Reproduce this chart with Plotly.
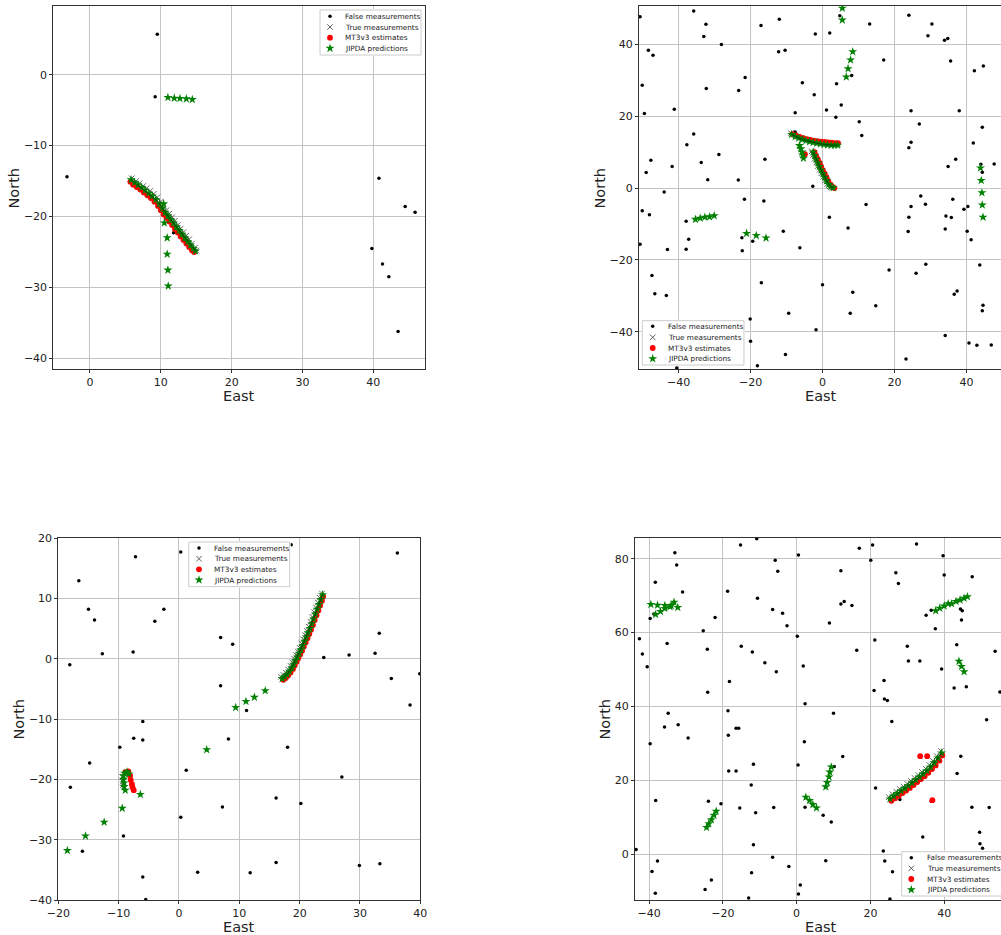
import plotly.graph_objects as go

W, H = 1001, 935

# ---------------- panel 1 ----------------
P1_FALSE = [(9.5, 5.7), (9.2, -3.1), (-3.25, -14.4), (40.8, -14.6), (44.5, -18.6), (45.9, -19.4),
            (39.8, -24.5), (41.3, -26.7), (42.2, -28.5), (43.5, -36.2), (11.8, -22.3)]
P1_TRUE = [(5.9, -14.6), (6.5, -15.0), (7.0, -15.3), (7.5, -15.7), (8.0, -16.0), (8.5, -16.4),
           (9.0, -16.8), (9.5, -17.3), (10.0, -17.9), (10.4, -18.5), (10.8, -19.1), (11.2, -19.6),
           (11.6, -20.1), (12.0, -20.6), (12.4, -21.2), (12.8, -21.7), (13.2, -22.2), (13.6, -22.7),
           (14.0, -23.2), (14.4, -23.8), (14.8, -24.4), (15.0, -24.8)]
P1_MT3 = [(5.7, -15.1), (6.1, -15.5), (6.6, -15.85), (7.1, -16.2), (7.6, -16.6), (8.1, -17.0),
          (8.6, -17.4), (9.1, -17.9), (9.6, -18.5), (10.0, -19.1), (10.4, -19.7), (10.8, -20.2),
          (11.2, -20.7), (11.6, -21.2), (12.0, -21.75), (12.4, -22.25), (12.8, -22.8), (13.2, -23.3),
          (13.6, -23.8), (14.0, -24.3), (14.4, -24.75), (14.7, -25.0)]
P1_TRACK = [(5.8, -14.8), (6.3, -15.2), (6.8, -15.55), (7.3, -15.9), (7.8, -16.3), (8.3, -16.7),
            (8.8, -17.1), (9.3, -17.6), (9.8, -18.2), (10.2, -18.8), (10.6, -19.4), (11.0, -19.9),
            (11.4, -20.4), (11.8, -20.9), (12.2, -21.45), (12.6, -21.95), (13.0, -22.5), (13.4, -23.0),
            (13.8, -23.5), (14.2, -24.0), (14.6, -24.5), (14.9, -24.85)]
P1_JIPDA = [(11.0, -3.2), (11.9, -3.3), (12.7, -3.35), (13.6, -3.4), (14.45, -3.5),
            (10.4, -18.2), (10.5, -20.9), (10.9, -23.0), (10.9, -25.3), (11.0, -27.55), (11.05, -29.8)]

# ---------------- panel 2 ----------------
P2_FALSE = [(-50.7, 47.6), (-35.8, 49.2), (-32.4, 45.5), (-33.0, 42.1), (-48.4, 38.3), (-47.1, 36.9),
            (-28.1, 39.9), (-50.1, 28.6), (-49.5, 20.7), (-41.2, 21.9), (-32.3, 27.7), (-23.3, 27.1),
            (-21.5, 30.7), (-17.1, 45.2), (-12.0, 46.9), (-12.2, 37.9), (-10.4, 38.3), (-5.6, 29.3),
            (-2.0, 42.8), (-2.3, 25.9), (2.0, 43.1), (4.8, 47.9), (3.9, 29.0), (8.1, 31.3), (1.1, 21.7),
            (5.2, 23.1), (3.7, 19.7), (-7.6, 20.9), (-7.6, 15.6), (13.1, 45.6), (17.0, 35.6), (10.2, 18.4),
            (10.9, 14.6), (24.0, 48.0), (29.3, 42.3), (30.4, 45.6), (33.9, 41.1), (34.8, 41.6), (35.6, 35.3),
            (42.2, 32.6), (44.7, 33.9), (38.0, 21.5), (24.6, 21.5), (26.9, 17.8), (24.6, 12.7), (24.0, 11.2),
            (41.9, 12.5), (44.4, 16.9), (47.7, 6.7), (37.0, 8.0), (34.9, 6.0), (44.0, 6.6), (44.4, 4.4),
            (-33.7, 7.1), (-28.8, 9.3), (-37.7, 12.0), (-35.8, 15.0), (-41.8, 6.0), (-47.7, 7.7), (-49.0, 4.3),
            (-31.9, 2.3), (-23.4, 2.2), (-16.0, 8.0), (-44.0, -1.1), (-50.1, -6.3), (-48.1, -7.4), (-2.7, 0.5),
            (-21.7, -3.1), (-16.3, -3.6), (1.9, -8.1), (12.1, -4.6), (7.1, -11.1), (-10.9, -12.0),
            (-37.9, -9.2), (-37.2, -14.2), (-37.9, -17.0), (-43.1, -17.1), (-50.7, -15.6), (-22.4, -13.8),
            (-19.4, -14.8), (-22.3, -17.4), (-6.3, -16.6), (27.3, -2.2), (28.6, -4.5), (24.6, -5.1),
            (24.0, -8.1), (23.8, -12.1), (36.2, -3.1), (34.3, -7.8), (35.8, -8.2), (34.1, -11.4),
            (39.3, -5.9), (40.4, -5.1), (40.2, -12.0), (41.3, -14.4), (-47.4, -24.3), (-46.6, -29.4),
            (-43.4, -29.9), (-17.0, -26.3), (-20.1, -36.4), (-20.0, -42.6), (-9.4, -34.8), (-10.3, -46.3),
            (-1.8, -39.4), (0.0, -26.9), (8.4, -29.0), (7.7, -34.8), (14.8, -32.7), (18.5, -22.8),
            (26.0, -23.7), (28.7, -21.2), (36.6, -29.5), (37.4, -28.6), (43.7, -21.4), (44.6, -32.6),
            (44.4, -34.1), (34.1, -41.0), (40.7, -43.1), (42.9, -43.7), (46.9, -43.6), (23.2, -47.5),
            (-18.1, -49.4), (-40.5, -50.0)]
P2_TRUE = [(-8.8, 15.3), (-7.8, 14.7), (-6.8, 14.3), (-5.8, 13.9), (-4.8, 13.5), (-3.8, 13.2),
           (-2.8, 13.0), (-1.8, 12.8), (-0.8, 12.6), (0.2, 12.4), (1.2, 12.3), (2.2, 12.2), (3.2, 12.1),
           (4.3, 12.1),
           (-3.0, 10.2), (-2.6, 9.2), (-2.2, 8.1), (-1.7, 7.1), (-1.3, 6.1), (-0.8, 5.1), (-0.3, 4.1),
           (0.2, 3.1), (0.7, 2.1), (1.3, 1.1), (2.0, 0.5), (2.8, 0.1)]
P2_MT3 = [(-8.4, 15.0), (-7.4, 14.6), (-6.4, 14.2), (-5.4, 13.9), (-4.4, 13.6), (-3.4, 13.4),
          (-2.4, 13.2), (-1.4, 13.0), (-0.4, 12.9), (0.6, 12.8), (1.6, 12.7), (2.6, 12.6), (3.6, 12.5),
          (4.3, 12.5),
          (-2.2, 10.0), (-1.8, 9.0), (-1.3, 8.0), (-0.8, 7.0), (-0.4, 6.0), (0.1, 5.0), (0.6, 4.0),
          (1.1, 3.0), (1.6, 2.0), (2.2, 1.0), (2.8, 0.3), (3.3, 0.0),
          (-4.9, 9.4)]
P2_TRACK_A = [(-8.6, 14.9), (-7.6, 14.3), (-6.6, 13.9), (-5.6, 13.5), (-4.6, 13.2), (-3.6, 12.9),
              (-2.6, 12.7), (-1.6, 12.5), (-0.6, 12.3), (0.4, 12.1), (1.4, 12.0), (2.4, 11.9),
              (3.4, 11.9), (4.2, 11.9)]
P2_TRACK_B = [(-2.6, 10.0), (-2.2, 9.0), (-1.8, 8.0), (-1.3, 7.0), (-0.9, 6.0), (-0.4, 5.0),
              (0.1, 4.0), (0.6, 3.0), (1.1, 2.0), (1.7, 1.0), (2.3, 0.4), (3.0, 0.1)]
P2_JIPDA = [(5.5, 50.0), (5.5, 46.7), (8.4, 37.9), (7.8, 35.6), (7.1, 33.2), (6.6, 30.9),
            (-35.3, -8.7), (-34.0, -8.4), (-32.7, -8.1), (-31.4, -8.0), (-30.1, -7.7),
            (-21.1, -12.6), (-18.4, -13.2), (-15.7, -13.9),
            (43.9, 5.6), (44.1, 2.1), (44.3, -1.3), (44.4, -4.7), (44.6, -8.1),
            (-6.4, 11.8), (-6.0, 10.9), (-5.7, 10.0), (-5.5, 9.2), (-5.3, 8.3)]

# ---------------- panel 3 ----------------
P3_FALSE = [(-16.6, 12.9), (-15.0, 8.2), (-14.0, 6.4), (-12.7, 0.8), (-18.1, -1.0), (-7.2, 16.9),
            (0.3, 17.7), (-2.5, 8.2), (-4.0, 6.2), (-7.6, 1.1), (18.6, 18.9), (36.2, 17.5), (6.9, 3.5),
            (8.9, 2.4), (33.2, 4.2), (32.5, 0.9), (28.2, 0.6), (24.0, 0.2), (35.2, -3.3), (38.3, -7.7),
            (39.9, -2.5), (6.9, -4.5), (11.2, -8.6), (-6.0, -10.4), (-7.5, -13.2), (-6.0, -13.5),
            (-9.8, -14.7), (-14.8, -17.3), (8.2, -13.3), (18.0, -14.7), (1.2, -18.5), (-18.0, -21.3),
            (27.0, -19.6), (7.2, -24.6), (16.1, -23.1), (20.2, -24.0), (0.3, -26.3), (-9.2, -29.4),
            (-16.0, -31.9), (3.1, -35.4), (11.8, -35.5), (-6.0, -36.2), (16.1, -33.8), (29.9, -34.3),
            (33.3, -34.0), (-5.5, -39.9)]
P3_TRACK = [(17.1, -3.3), (17.5, -3.0), (17.9, -2.6), (18.3, -2.1), (18.7, -1.5), (19.0, -0.9),
            (19.3, -0.3), (19.6, 0.3), (19.9, 0.9), (20.2, 1.5), (20.5, 2.2), (20.8, 2.9), (21.1, 3.6),
            (21.4, 4.3), (21.7, 5.0), (22.0, 5.8), (22.3, 6.6), (22.6, 7.4), (22.9, 8.2), (23.2, 9.0),
            (23.5, 9.8), (23.8, 10.6)]
P3_HOOK = [(-9.2, -19.4), (-9.0, -19.0), (-8.6, -18.8), (-8.3, -19.1), (-9.2, -20.0), (-9.1, -20.6),
           (-9.1, -21.2), (-8.9, -21.8)]
P3_TRUE = [(16.9, -3.0), (17.3, -2.7), (17.7, -2.3), (18.1, -1.8), (18.5, -1.2), (18.8, -0.6),
           (19.1, 0.0), (19.4, 0.6), (19.7, 1.2), (20.0, 1.8), (20.3, 2.5), (20.6, 3.2), (20.9, 3.9),
           (21.2, 4.6), (21.5, 5.3), (21.8, 6.1), (22.1, 6.9), (22.4, 7.7), (22.7, 8.5), (23.0, 9.3),
           (23.3, 10.1), (23.7, 10.8),
           (-9.4, -19.6), (-9.3, -20.4), (-9.3, -21.0)]
P3_MT3 = [(17.3, -3.5), (17.7, -3.2), (18.1, -2.8), (18.5, -2.3), (18.9, -1.7), (19.2, -1.1),
          (19.5, -0.5), (19.8, 0.1), (20.1, 0.7), (20.4, 1.3), (20.7, 2.0), (21.0, 2.7), (21.3, 3.4),
          (21.6, 4.1), (21.9, 4.8), (22.2, 5.6), (22.5, 6.4), (22.8, 7.2), (23.1, 8.0), (23.4, 8.8),
          (23.7, 9.6), (23.9, 10.3),
          (-8.9, -18.8), (-8.4, -18.7), (-8.1, -19.4), (-8.0, -20.1), (-7.8, -20.8), (-7.7, -21.3),
          (-7.5, -21.8)]
P3_JIPDA = [(14.3, -5.3), (12.5, -6.4), (11.1, -7.1), (9.4, -8.1), (4.6, -15.1), (-6.4, -22.5),
            (-9.4, -24.8), (-12.4, -27.1), (-15.5, -29.4), (-18.5, -31.8)]

# ---------------- panel 4 ----------------
P4_FALSE = [(-43.5, 1.2), (-42.6, 58.3), (-41.8, 54.2), (-40.5, 50.7), (-39.7, 29.9), (-38.3, 73.6),
            (-39.7, 63.8), (-38.7, 65.0), (-38.2, 14.5), (-37.7, -1.9), (-39.2, -4.7), (-38.3, -10.6),
            (-33.0, 81.6), (-32.5, 78.3), (-30.9, 71.0), (-35.1, 57.0), (-34.8, 38.1), (-35.8, 34.4),
            (-32.1, 35.0), (-29.4, 31.4), (-25.3, 60.5), (-24.2, 55.5), (-24.1, 43.8), (-22.1, 64.1),
            (-23.9, 14.3), (-20.5, 13.6), (-23.1, -7.0), (-24.8, -9.6), (-18.7, 71.2), (-18.2, 46.7),
            (-18.6, 38.8), (-18.5, 32.2), (-18.4, 22.5), (-16.4, 22.5), (-16.4, 34.1), (-15.7, 34.1),
            (-15.2, 83.7), (-15.0, 56.3), (-15.4, 12.5), (-12.0, 54.7), (-10.6, 69.3), (-10.8, 85.4),
            (-11.7, 24.3), (-12.3, 18.7), (-11.1, 11.2), (-11.7, 2.5), (-12.2, -5.1), (-13.0, -11.9),
            (-8.6, 51.8), (-6.5, 66.2), (-5.8, 79.6), (-5.1, 76.6), (-3.8, 65.2), (-2.6, 61.8),
            (-5.5, 49.4), (-6.2, 12.6), (-6.5, -0.9), (-2.1, -3.4), (0.2, 59.0), (0.5, 81.0), (1.8, 50.9),
            (2.1, 30.4), (2.3, 40.7), (0.4, 24.1), (2.3, 12.7), (1.0, -8.4), (0.5, -10.8), (7.2, 10.5),
            (7.9, -1.8), (9.4, 8.7), (8.9, 62.6), (10.0, 38.1), (10.2, 23.7), (12.0, 76.7), (12.0, 67.7),
            (12.9, 68.4), (15.0, 67.3), (12.5, 26.4), (17.0, 82.8), (16.3, 55.2), (20.1, 79.6),
            (20.6, 83.7), (21.2, 58.0), (21.0, 44.3), (21.4, 17.9), (23.7, 47.0), (23.8, 42.0),
            (24.6, 41.6), (25.8, 35.9), (23.5, 0.8), (23.9, -1.9), (26.0, -4.8), (25.3, -12.2),
            (26.9, 76.2), (27.6, 73.3), (30.0, 56.3), (30.3, 52.3), (33.4, 52.3), (32.5, 84.0),
            (28.0, 14.8), (34.2, 4.6), (36.5, 14.3), (39.7, 80.8), (40.0, 75.6), (35.1, 64.7),
            (36.5, 66.0), (37.6, 61.0), (39.3, 50.1), (44.4, 66.4), (44.9, 65.9), (44.7, 63.4),
            (43.4, 56.7), (42.7, 45.0), (46.0, 45.3), (47.6, 75.1), (43.5, 21.8), (44.5, 26.5),
            (47.5, 12.7), (52.2, 12.6), (53.8, 54.9), (51.5, 36.4), (55.1, 43.9), (49.6, 5.9),
            (49.7, 2.8), (50.4, 1.6)]
P4_TRACK = [(25.3, 14.9), (26.3, 15.7), (27.3, 16.4), (28.3, 17.1), (29.3, 17.8), (30.3, 18.5),
            (31.3, 19.3), (32.3, 20.1), (33.3, 20.9), (34.3, 21.7), (35.3, 22.6), (36.3, 23.6),
            (37.3, 24.7), (38.3, 26.0), (39.3, 27.4)]
P4_TRUE = [(25.0, 15.4), (26.0, 16.2), (27.0, 16.9), (28.0, 17.6), (29.0, 18.3), (30.0, 19.0),
           (31.0, 19.8), (32.0, 20.6), (33.0, 21.4), (34.0, 22.2), (35.0, 23.1), (36.0, 24.1),
           (37.0, 25.2), (38.0, 26.5), (39.1, 27.9)]
P4_MT3 = [(25.7, 14.4), (26.7, 15.1), (27.7, 15.8), (28.7, 16.5), (29.7, 17.2), (30.7, 17.9),
          (31.7, 18.7), (32.7, 19.5), (33.7, 20.3), (34.7, 21.1), (35.7, 22.0), (36.7, 23.0),
          (37.7, 24.0), (38.7, 25.3), (39.5, 26.7),
          (33.5, 26.5), (35.4, 26.5), (36.8, 14.6)]
P4_JIPDA = [(-39.5, 67.6), (-37.7, 67.4), (-38.2, 64.9), (-36.9, 65.7), (-35.7, 66.5), (-35.7, 67.3),
            (-34.3, 67.0), (-34.0, 67.3), (-33.2, 68.2), (-32.2, 66.8),
            (37.7, 65.9), (38.8, 66.6), (40.0, 67.2), (41.1, 67.8), (42.0, 67.8), (43.2, 68.4),
            (44.3, 68.8), (45.4, 69.3), (46.3, 69.7),
            (44.0, 52.2), (44.7, 50.8), (45.4, 49.4),
            (-24.4, 7.2), (-23.8, 8.2), (-23.1, 9.3), (-22.4, 10.5), (-21.8, 11.6),
            (2.5, 15.4), (3.5, 14.5), (4.4, 13.4), (5.4, 12.5),
            (7.9, 18.2), (8.3, 19.4), (8.8, 20.9), (9.0, 22.2), (9.4, 23.6)]

# axis ranges and ticks per panel
RANGES = {
    1: dict(x=[-5.18, 47.3], y=[-41.5, 9.69], dtick=10),
    2: dict(x=[-51.0, 49.6], y=[-50.3, 50.6], dtick=20),
    3: dict(x=[-20, 40], y=[-40, 20], dtick=10),
    4: dict(x=[-43.8, 55.4], y=[-12.45, 85.6], dtick=20),
}
# plot-area boxes in pixels: left, top, right, bottom
BOXES = {1: (53.3, 6, 425, 369), 2: (639, 6, 1001, 369),
         3: (58.3, 538, 420.3, 900), 4: (635, 538, 1001, 900)}
# axis-title centres in pixels: (East x, East y), (North x, North y)
TITLES = {1: ((239, 395.5), (13.5, 188)), 2: ((820.7, 395.5), (599.5, 188)),
          3: ((239.3, 927), (18.5, 719)), 4: ((821, 927), (604.5, 719))}
# legend boxes: left, top, right, bottom, symbol x, text x, row centres
LEGENDS = {1: (320, 10, 421, 55, 330, 343.3, [16.3, 27, 37.7, 48.3]),
           2: (642.3, 320.7, 744, 365, 652.7, 666, [326.3, 337.3, 348, 358.7]),
           3: (188.7, 542, 289.7, 586.7, 199, 212, [548, 558.7, 569.3, 580]),
           4: (901.7, 851.7, 1012, 896, 911.3, 924.7, [857.7, 868.3, 879, 889.7])}
LABELS = ["False measurements", "True measurements", "MT3v3 estimates", "JIPDA predictions"]

FONT = "DejaVu Sans"
GREEN = "#008000"
RED = "#ff0000"


def px(x):
    return x / W


def py(y):
    return 1 - y / H


def xy(pts):
    return [p[0] for p in pts], [p[1] for p in pts]


STYLE = {
    "false": dict(mode="markers", marker=dict(symbol="circle", size=3.5, color="black")),
    "true": dict(mode="markers", marker=dict(symbol="x-thin", size=5.5,
                                             line=dict(width=1, color="rgba(60,60,60,0.8)"))),
    "mt3": dict(mode="markers", marker=dict(symbol="circle", size=5.8, color=RED)),
    "jipda": dict(mode="markers", marker=dict(symbol="star", size=6.8, color=GREEN,
                                              line=dict(width=0))),
}

fig = go.Figure()


def add(k, kind, pts):
    xs, ys = xy(pts)
    sfx = "" if k == 1 else str(k)
    fig.add_trace(go.Scatter(x=xs, y=ys, xaxis="x" + sfx, yaxis="y" + sfx,
                             showlegend=False, hoverinfo="skip", **STYLE[kind]))


def add_line(k, pts):
    xs, ys = xy(pts)
    sfx = "" if k == 1 else str(k)
    fig.add_trace(go.Scatter(x=xs, y=ys, xaxis="x" + sfx, yaxis="y" + sfx, mode="lines",
                             line=dict(color="rgba(0,45,0,0.8)", width=1),
                             showlegend=False, hoverinfo="skip"))


PANELS = {
    1: dict(false=P1_FALSE, true=P1_TRUE, mt3=P1_MT3, jipda=P1_TRACK + P1_JIPDA, lines=[P1_TRACK]),
    2: dict(false=P2_FALSE, true=P2_TRUE, mt3=P2_MT3, jipda=P2_TRACK_A + P2_TRACK_B + P2_JIPDA,
            lines=[P2_TRACK_A, P2_TRACK_B]),
    3: dict(false=P3_FALSE, true=P3_TRUE, mt3=P3_MT3, jipda=P3_TRACK + P3_HOOK + P3_JIPDA,
            lines=[P3_TRACK]),
    4: dict(false=P4_FALSE, true=P4_TRUE, mt3=P4_MT3, jipda=P4_TRACK + P4_JIPDA, lines=[P4_TRACK]),
}

for k, d in PANELS.items():
    for kind in ("false", "true", "mt3", "jipda"):
        add(k, kind, d[kind])
    for ln in d["lines"]:
        add_line(k, ln)

layout = dict(template="none", width=W, height=H,
              margin=dict(l=0, r=0, t=0, b=0, pad=0, autoexpand=False),
              paper_bgcolor="white", plot_bgcolor="white", showlegend=False,
              font=dict(family=FONT, color="#222"))
annotations = []

for k in range(1, 5):
    l, t, r, b = BOXES[k]
    rg = RANGES[k]
    sfx = "" if k == 1 else str(k)
    right_cut = r >= W
    common = dict(showgrid=True, gridcolor="#c4c4c4", gridwidth=1, zeroline=False,
                  showline=True, linecolor="#333", linewidth=1, automargin=False,
                  ticks="outside", ticklen=3, tickwidth=1, tickcolor="#333",
                  tickfont=dict(family=FONT, size=11, color="#222"),
                  dtick=rg["dtick"], fixedrange=True)
    layout["xaxis" + sfx] = dict(domain=[px(l), min(px(r), 1.0)], range=rg["x"],
                                 anchor="y" + sfx, mirror=True, **common)
    layout["yaxis" + sfx] = dict(domain=[py(b), py(t)], range=rg["y"],
                                 anchor="x" + sfx, mirror=not right_cut, **common)
    (ex, ey), (nx, ny) = TITLES[k]
    annotations.append(dict(text="East", x=px(ex), y=py(ey), xref="paper", yref="paper",
                            showarrow=False, xanchor="center", yanchor="middle",
                            font=dict(family=FONT, size=14.5, color="#222")))
    annotations.append(dict(text="North", x=px(nx), y=py(ny), xref="paper", yref="paper",
                            showarrow=False, textangle=-90, xanchor="center", yanchor="middle",
                            font=dict(family=FONT, size=14.5, color="#222")))

    # legend panel drawn on its own pixel-scaled axes, stacked above the data
    L, T, R, B, sx, tx, rows = LEGENDS[k]
    li = k + 4
    x_lo, x_hi = L - 1, min(R + 1, W)
    layout[f"xaxis{li}"] = dict(domain=[px(x_lo), px(x_hi)], range=[x_lo - L, x_hi - L],
                                visible=False, fixedrange=True, anchor=f"y{li}", automargin=False)
    layout[f"yaxis{li}"] = dict(domain=[py(B + 1), py(T - 1)], range=[B - T + 1, -1],
                                visible=False, fixedrange=True, anchor=f"x{li}", automargin=False)
    fig.add_trace(go.Scatter(x=[0, R - L, R - L, 0, 0], y=[0, 0, B - T, B - T, 0],
                             xaxis=f"x{li}", yaxis=f"y{li}", mode="lines", fill="toself",
                             fillcolor="rgba(255,255,255,0.85)",
                             line=dict(color="#cccccc", width=1),
                             showlegend=False, hoverinfo="skip"))
    for kind, row in zip(("false", "true", "mt3", "jipda"), rows):
        fig.add_trace(go.Scatter(x=[sx - L], y=[row - T], xaxis=f"x{li}", yaxis=f"y{li}",
                                 showlegend=False, hoverinfo="skip", **STYLE[kind]))
    for label, row in zip(LABELS, rows):
        annotations.append(dict(text=label, x=tx - L, y=row - T, xref=f"x{li}", yref=f"y{li}",
                                showarrow=False, xanchor="left", yanchor="middle",
                                font=dict(family=FONT, size=7.3, color="#222")))

layout["annotations"] = annotations
fig.update_layout(**layout)

fig.write_html("out.html")
